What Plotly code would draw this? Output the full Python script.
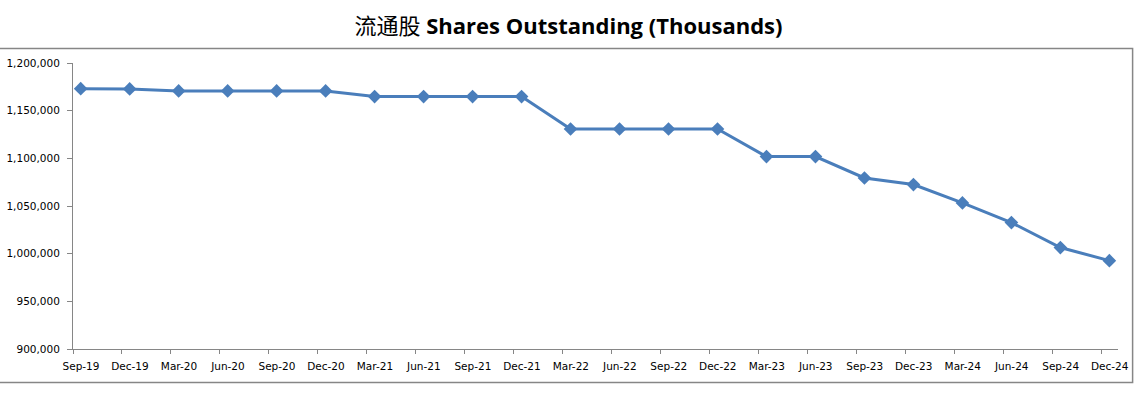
import plotly.graph_objects as go

categories = ["Sep-19", "Dec-19", "Mar-20", "Jun-20", "Sep-20", "Dec-20",
              "Mar-21", "Jun-21", "Sep-21", "Dec-21", "Mar-22", "Jun-22",
              "Sep-22", "Dec-22", "Mar-23", "Jun-23", "Sep-23", "Dec-23",
              "Mar-24", "Jun-24", "Sep-24", "Dec-24"]
shares = [1173100, 1172800, 1170700, 1170700, 1170700, 1170700,
          1164800, 1164800, 1164800, 1164800, 1130800, 1130800,
          1130800, 1130800, 1101800, 1101800, 1079400, 1072500,
          1053200, 1032600, 1006400, 992700]
y_ticks = [900000, 950000, 1000000, 1050000, 1100000, 1150000, 1200000]

idx = list(range(len(categories)))
W, H = 1137, 393
L, R, T, B = 73, 19.3, 62.7, 44.3
pw, ph = W - L - R, H - T - B

fig = go.Figure()
fig.add_trace(go.Scatter(
    x=idx, y=shares, mode="lines+markers",
    line=dict(color="#4A7EBB", width=3),
    marker=dict(symbol="diamond", size=10.5, color="#4A7EBB"),
    hoverinfo="x+y", showlegend=False,
))

off = 0.157
fig.update_layout(
    width=W, height=H,
    margin=dict(l=L, r=R, t=T, b=B, pad=0, autoexpand=False),
    paper_bgcolor="white", plot_bgcolor="white",
    title=dict(
        text='<span style="font-family:\'Noto Sans CJK SC\';font-weight:normal">流通股</span> <b>Shares Outstanding (Thousands)</b>',
        x=0.5, xref="container", xanchor="center",
        y=1 - 26 / H, yref="container", yanchor="middle",
        font=dict(family="Open Sans", size=22, color="black"),
    ),
    xaxis=dict(
        automargin=False,
        range=[-off, len(categories) - 1 + 0.176],
        tickmode="array",
        tickvals=[i - off for i in idx],
        ticktext=categories,
        ticklabelshift=8,
        ticklabelstandoff=3,
        ticks="outside", ticklen=4, tickcolor="#868686", tickwidth=1,
        showline=True, linecolor="#868686", linewidth=1,
        showgrid=False, zeroline=False,
        tickfont=dict(family="DejaVu Sans", size=10.5, color="black"),
    ),
    yaxis=dict(
        automargin=False,
        range=[900000, 1200000],
        tickmode="array", tickvals=y_ticks,
        ticktext=[f"{v:,}" for v in y_ticks],
        ticklabelstandoff=5,
        ticks="outside", ticklen=5, tickcolor="#868686", tickwidth=1,
        showline=True, linecolor="#868686", linewidth=1,
        showgrid=False, zeroline=False,
        tickfont=dict(family="DejaVu Sans", size=10.5, color="black"),
    ),
)

# outer chart-area border
x0 = (-4 - L) / pw
x1 = (1132.3 - L) / pw
y1 = (H - B - 48.3) / ph
y0 = (H - B - 382.3) / ph
fig.add_shape(type="rect", xref="paper", yref="paper",
              x0=x0, x1=x1, y0=y0, y1=y1,
              line=dict(color="#868686", width=1.5), fillcolor="rgba(0,0,0,0)",
              layer="below")

fig.write_html("out.html",
               config={"displayModeBar": False},
               post_script="document.body.style.margin='0';document.body.style.overflow='hidden';")
